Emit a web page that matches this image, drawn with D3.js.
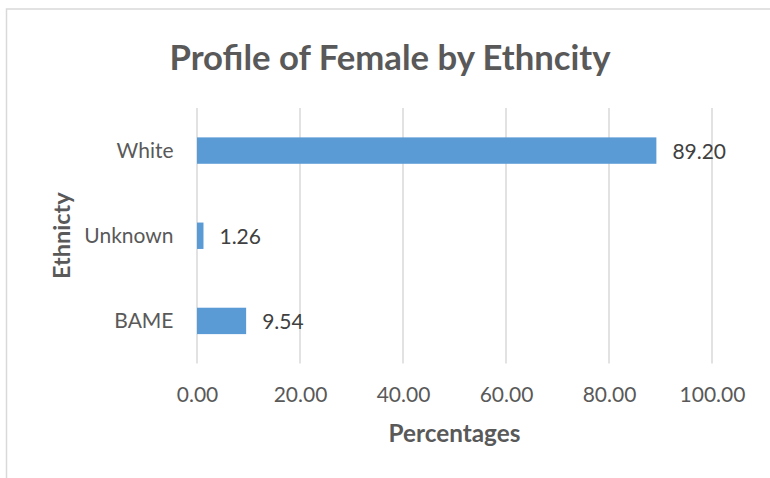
<!DOCTYPE html>
<html>
<head>
<meta charset="utf-8">
<script src="https://cdn.jsdelivr.net/npm/d3@7"></script>
<style>
  html, body { margin: 0; padding: 0; background: #fff; }
  svg { display: block; }
</style>
</head>
<body>
<svg id="chart" width="770" height="478"></svg>
<script>
// ---- data ----
const categories = ["White", "Unknown", "BAME"];
const values = [89.20, 1.26, 9.54];
const xTicks = [0, 20, 40, 60, 80, 100];
const chartTitle = "Profile of Female by Ethncity";
const xAxisTitle = "Percentages";
const yAxisTitle = "Ethnicty";

// ---- layout ----
const W = 770, H = 478;
const plot = { left: 197, right: 712, top: 108, bottom: 363.5 };
const fontFam = "Lato, 'Open Sans', sans-serif";

const svg = d3.select("#chart");

// chart border
svg.append("rect")
  .attr("x", 6.5).attr("y", 9)
  .attr("width", 800).attr("height", 500)
  .attr("fill", "#fff")
  .attr("stroke", "#D9D9D9").attr("stroke-width", 1.5);

const x = d3.scaleLinear().domain([0, 100]).range([plot.left, plot.right]);
const y = d3.scaleBand().domain(categories)
  .range([plot.top, plot.bottom])
  .paddingInner(0.69).paddingOuter(0.345);

// gridlines
svg.append("g").selectAll("line").data(xTicks).join("line")
  .attr("x1", d => x(d)).attr("x2", d => x(d))
  .attr("y1", plot.top).attr("y2", plot.bottom)
  .attr("stroke", "#D9D9D9").attr("stroke-width", 1.5);

// x axis (labels only)
const xAxis = d3.axisBottom(x).tickValues(xTicks).tickFormat(d3.format(".2f")).tickSize(0).tickPadding(0);
const gx = svg.append("g").attr("transform", `translate(0,${plot.bottom})`).call(xAxis);
gx.select(".domain").remove();
gx.selectAll("text")
  .attr("dy", null).attr("y", 38.5)
  .attr("font-family", fontFam).attr("font-size", 21).attr("fill", "#595959");

// y axis (labels only)
const yAxis = d3.axisLeft(y).tickSize(0).tickPadding(0);
const gy = svg.append("g").attr("transform", `translate(${plot.left},0)`).call(yAxis);
gy.select(".domain").remove();
gy.selectAll("text")
  .attr("dy", null).attr("x", -23.5).attr("y", 7.5)
  .attr("font-family", fontFam).attr("font-size", 21).attr("fill", "#595959");

// bars
const rows = categories.map((c, i) => ({ c, v: values[i] }));
svg.append("g").selectAll("rect").data(rows).join("rect")
  .attr("x", x(0))
  .attr("y", d => y(d.c))
  .attr("width", d => x(d.v) - x(0))
  .attr("height", y.bandwidth())
  .attr("fill", "#5B9BD5");

// data labels
svg.append("g").selectAll("text").data(rows).join("text")
  .attr("x", d => x(d.v) + 16)
  .attr("y", d => y(d.c) + y.bandwidth() / 2 + 8)
  .attr("font-family", fontFam).attr("font-size", 21).attr("fill", "#404040")
  .text(d => d.v.toFixed(2));

// title
svg.append("text")
  .attr("x", 390).attr("y", 69.5)
  .attr("text-anchor", "middle")
  .attr("font-family", fontFam).attr("font-weight", "bold")
  .attr("font-size", 34.7).attr("fill", "#595959")
  .text(chartTitle);

// x axis title
svg.append("text")
  .attr("x", (plot.left + plot.right) / 2).attr("y", 442)
  .attr("text-anchor", "middle")
  .attr("font-family", fontFam).attr("font-weight", "bold")
  .attr("font-size", 24.3).attr("fill", "#595959")
  .text(xAxisTitle);

// y axis title
svg.append("text")
  .attr("transform", `translate(70,${(plot.top + plot.bottom) / 2}) rotate(-90)`)
  .attr("text-anchor", "middle")
  .attr("font-family", fontFam).attr("font-weight", "bold")
  .attr("font-size", 23.5).attr("fill", "#595959")
  .text(yAxisTitle);
</script>
</body>
</html>
